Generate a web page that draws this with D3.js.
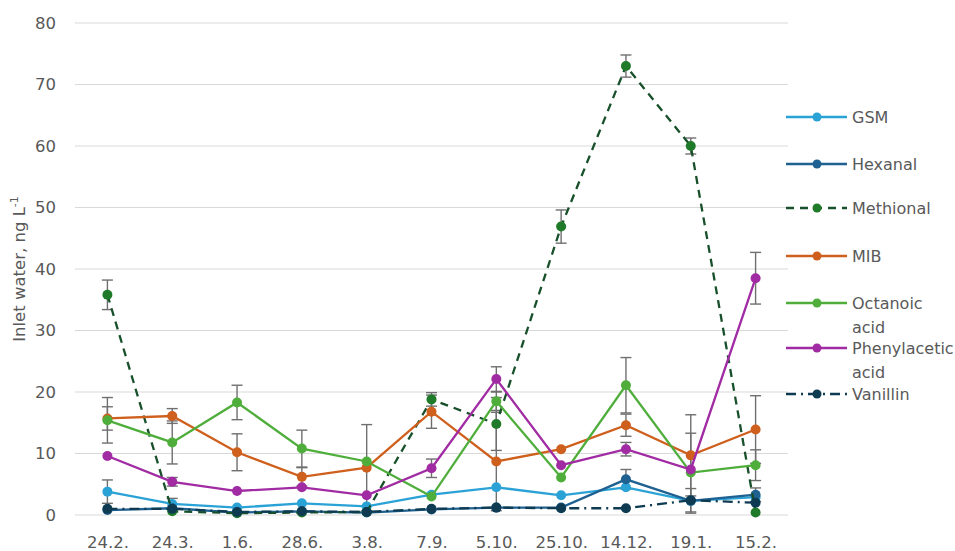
<!DOCTYPE html>
<html>
<head>
<meta charset="utf-8">
<script src="https://cdn.jsdelivr.net/npm/d3@7"></script>
<style>
  html, body { margin: 0; padding: 0; background: #fff; }
  svg { display: block; font-family: "DejaVu Sans", Arial, sans-serif; }
</style>
</head>
<body>
<svg id="chart" width="955" height="551"></svg>
<script>
// Sampling dates
const dates = ["24.2.", "24.3.", "1.6.", "28.6.", "3.8.", "7.9.", "5.10.", "25.10.", "14.12.", "19.1.", "15.2."];
const yTicks = [0, 10, 20, 30, 40, 50, 60, 70, 80];

// Concentrations (ng/L) and standard deviations per compound
const gsm        = [3.8, 1.8, 1.2, 1.9, 1.4, 3.3, 4.5, 3.2, 4.5, 2.3, 2.9];
const gsmErr     = [1.9, 0.9, 0, 0, 0, 0, 0, 0, 0, 0, 0];
const hexanal    = [0.8, 1.1, 0.4, 0.6, 0.4, 0.9, 1.2, 1.2, 5.8, 2.3, 3.3];
const hexanalErr = [0, 0, 0, 0, 0, 0, 0, 0, 1.6, 2.0, 1.1];
const methional    = [35.8, 0.6, 0.3, 0.4, 0.5, 18.8, 14.8, 46.9, 73.0, 60.0, 0.4];
const methionalErr = [2.4, 0, 0, 0, 0, 1.1, 4.3, 2.7, 1.8, 1.3, 0];
const mib        = [15.7, 16.1, 10.2, 6.2, 7.7, 16.8, 8.7, 10.7, 14.6, 9.7, 13.9];
const mibErr     = [1.9, 1.2, 3.0, 1.5, 7.0, 2.7, 8.0, 0, 1.8, 6.6, 5.5];
const octanoic    = [15.4, 11.8, 18.3, 10.8, 8.7, 3.0, 18.5, 6.1, 21.1, 6.9, 8.1];
const octanoicErr = [3.7, 3.5, 2.8, 3.0, 0, 0, 1.5, 0, 4.5, 6.4, 2.5];
const phenyl    = [9.6, 5.4, 3.9, 4.5, 3.2, 7.6, 22.1, 8.1, 10.7, 7.4, 38.5];
const phenylErr = [0, 0.7, 0, 0, 0, 1.5, 2.0, 0, 1.1, 0, 4.2];
const vanillin    = [1.0, 1.0, 0.5, 0.6, 0.5, 1.0, 1.2, 1.1, 1.1, 2.4, 2.0];
const vanillinErr = [0, 0, 0, 0, 0, 0, 0, 0, 0, 0, 0];

const seriesNames = ["GSM", "Hexanal", "Methional", "MIB", "Octanoic acid", "Phenylacetic acid", "Vanillin"];
const legendLines = [["GSM"], ["Hexanal"], ["Methional"], ["MIB"], ["Octanoic", "acid"], ["Phenylacetic", "acid"], ["Vanillin"]];

const series = [
  { values: gsm,       err: gsmErr,       color: "#2aa2d6", dash: null,       mark: "#2aa2d6" },
  { values: hexanal,   err: hexanalErr,   color: "#1f6190", dash: null,       mark: "#1f6190" },
  { values: methional, err: methionalErr, color: "#17502a", dash: "8,6",      mark: "#1f7a2a" },
  { values: mib,       err: mibErr,       color: "#cf5f1c", dash: null,       mark: "#cf5f1c" },
  { values: octanoic,  err: octanoicErr,  color: "#4fae3b", dash: null,       mark: "#4fae3b" },
  { values: phenyl,    err: phenylErr,    color: "#a12ba3", dash: null,       mark: "#a12ba3" },
  { values: vanillin,  err: vanillinErr,  color: "#0e3a52", dash: "10,5,2,5", mark: "#0e3a52" }
].map((s, i) => ({ ...s, name: seriesNames[i], label: legendLines[i] }));

const svg = d3.select("#chart");
const plot = { left: 75, right: 788, top: 23, bottom: 515 };

const x = d3.scalePoint().domain(dates).range([plot.left, plot.right]).padding(0.5);
const y = d3.scaleLinear().domain([0, 80]).range([plot.bottom, plot.top]);

const textColor = "#595959";
const font = "DejaVu Sans, Arial, sans-serif";

// Horizontal gridlines
svg.append("g")
  .selectAll("line")
  .data(yTicks)
  .join("line")
  .attr("x1", plot.left).attr("x2", plot.right)
  .attr("y1", d => y(d)).attr("y2", d => y(d))
  .attr("stroke", "#d9d9d9").attr("stroke-width", 1.2);

// Y axis labels
const yAxis = svg.append("g")
  .attr("transform", `translate(${plot.left - 19},0)`)
  .call(d3.axisLeft(y).tickValues(yTicks).tickSize(0).tickPadding(0));
yAxis.select(".domain").remove();
yAxis.selectAll("text")
  .attr("fill", textColor).attr("font-size", 16.5)
  .attr("font-family", font);

// X axis labels
const xAxis = svg.append("g")
  .attr("transform", `translate(0,${plot.bottom + 21})`)
  .call(d3.axisBottom(x).tickSize(0).tickPadding(0));
xAxis.select(".domain").remove();
xAxis.selectAll("text")
  .attr("fill", textColor).attr("font-size", 16.5)
  .attr("font-family", font);

// Y axis title with superscript
const yTitle = svg.append("text")
  .attr("transform", `translate(25,${(plot.top + plot.bottom) / 2}) rotate(-90)`)
  .attr("text-anchor", "middle")
  .attr("fill", textColor)
  .attr("font-size", 16.5);
yTitle.append("tspan").text("Inlet water, ng L");
yTitle.append("tspan").attr("font-size", 11).attr("dy", -7).text("-1");

// Error bars
const errG = svg.append("g");
series.forEach(s => {
  s.values.forEach((v, i) => {
    const e = s.err[i];
    if (!e) return;
    const cx = x(dates[i]);
    const g = errG.append("g").attr("stroke", "#6f6f6f").attr("stroke-width", 1.4);
    g.append("line").attr("x1", cx).attr("x2", cx).attr("y1", y(v + e)).attr("y2", y(Math.max(0, v - e)));
    g.append("line").attr("x1", cx - 5.5).attr("x2", cx + 5.5).attr("y1", y(v + e)).attr("y2", y(v + e));
    g.append("line").attr("x1", cx - 5.5).attr("x2", cx + 5.5).attr("y1", y(Math.max(0, v - e))).attr("y2", y(Math.max(0, v - e)));
  });
});

// Lines and markers
const line = d3.line().x((d, i) => x(dates[i])).y(d => y(d));
series.forEach(s => {
  svg.append("path")
    .datum(s.values)
    .attr("d", line)
    .attr("fill", "none")
    .attr("stroke", s.color)
    .attr("stroke-width", 2.3)
    .attr("stroke-dasharray", s.dash);
  svg.append("g")
    .selectAll("circle")
    .data(s.values)
    .join("circle")
    .attr("cx", (d, i) => x(dates[i]))
    .attr("cy", d => y(d))
    .attr("r", 5)
    .attr("fill", s.mark);
});

// Legend
const legendY = [117, 164, 208, 256, 303, 348, 394];
const legend = svg.append("g");
series.forEach((s, i) => {
  const g = legend.append("g").attr("transform", `translate(0,${legendY[i]})`);
  g.append("line")
    .attr("x1", 786).attr("x2", 847).attr("y1", 0).attr("y2", 0)
    .attr("stroke", s.color).attr("stroke-width", 2.3)
    .attr("stroke-dasharray", s.dash);
  g.append("circle").attr("cx", 817).attr("cy", 0).attr("r", 4.5).attr("fill", s.mark);
  const t = g.append("text")
    .attr("x", 852).attr("y", 0)
    .attr("fill", textColor).attr("font-size", 16);
  s.label.forEach((ln, k) => {
    t.append("tspan").attr("x", 852).attr("dy", k === 0 ? "0.35em" : 24).text(ln);
  });
});
</script>
</body>
</html>
